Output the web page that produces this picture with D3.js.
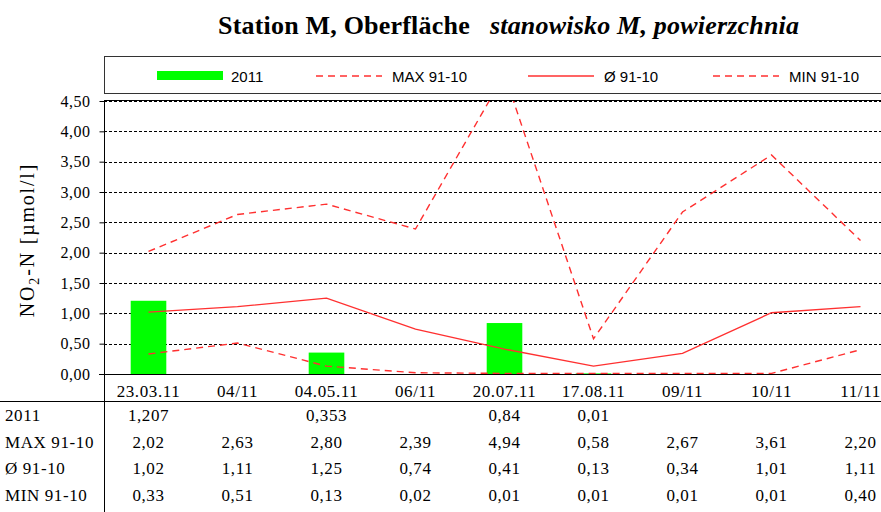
<!DOCTYPE html>
<html>
<head>
<meta charset="utf-8">
<script src="https://cdn.jsdelivr.net/npm/d3@7"></script>
<style>
  body { margin: 0; background: #fff; }
  svg { display: block; }
  .serif { font-family: "Liberation Serif", "Times New Roman", serif; }
  .sans { font-family: "Liberation Sans", Arial, sans-serif; }
</style>
</head>
<body>
<div id="chart"></div>
<script>
// data
var categories = ["23.03.11", "04/11", "04.05.11", "06/11", "20.07.11", "17.08.11", "09/11", "10/11", "11/11"];
var values2011 = [1.207, null, 0.353, null, 0.84, 0.01, null, null, null];
var maxValues = [2.02, 2.63, 2.80, 2.39, 4.94, 0.58, 2.67, 3.61, 2.20];
var meanValues = [1.02, 1.11, 1.25, 0.74, 0.41, 0.13, 0.34, 1.01, 1.11];
var minValues = [0.33, 0.51, 0.13, 0.02, 0.01, 0.01, 0.01, 0.01, 0.40];
var yTicks = [0, 0.5, 1, 1.5, 2, 2.5, 3, 3.5, 4, 4.5];
var seriesNames = ["2011", "MAX 91-10", "Ø 91-10", "MIN 91-10"];

var W = 881, H = 512;
var red = "#ff3030", green = "#00ff00";
var dash = "7,5";

var svg = d3.select("#chart").append("svg")
  .attr("width", W)
  .attr("height", H);

// Set the ranges (plot runs past the right edge, like the original)
var x = d3.scaleBand().domain(categories).range([104, 905]);
var y = d3.scaleLinear().domain([0, 4.5]).range([374, 101]);
var fmt2 = function(v) { return v.toFixed(2).replace(".", ","); };

// Title
var title = svg.append("text")
  .attr("class", "serif")
  .attr("x", 218)
  .attr("y", 34)
  .style("font-size", "26px")
  .style("letter-spacing", "0.2px")
  .style("font-weight", "bold");
title.append("tspan").text("Station M, Oberfläche");
title.append("tspan").attr("dx", 20).style("font-style", "italic").text("stanowisko M, powierzchnia");

// Legend box
svg.append("rect")
  .attr("x", 104.5).attr("y", 56.5)
  .attr("width", 800).attr("height", 37)
  .attr("fill", "none").attr("stroke", "#333");

var legendY = 76;
svg.append("rect")
  .attr("x", 157).attr("y", 71)
  .attr("width", 66).attr("height", 9)
  .attr("fill", green);
var legendLines = [
  {x: 316, dash: dash, label: seriesNames[1]},
  {x: 528, dash: null, label: seriesNames[2]},
  {x: 713, dash: dash, label: seriesNames[3]}
];
svg.append("text").attr("class", "sans")
  .attr("x", 231).attr("y", legendY + 5.5)
  .style("font-size", "15px").text(seriesNames[0]);
legendLines.forEach(function(d) {
  svg.append("line")
    .attr("x1", d.x).attr("x2", d.x + 66)
    .attr("y1", legendY).attr("y2", legendY)
    .attr("stroke", red).attr("stroke-width", 1.4)
    .attr("stroke-dasharray", d.dash);
  svg.append("text").attr("class", "sans")
    .attr("x", d.x + 76).attr("y", legendY + 5.5)
    .style("font-size", "15px").text(d.label);
});

// Gridlines
svg.append("g")
  .selectAll("line")
  .data(yTicks.filter(function(d) { return d > 0; }))
  .join("line")
    .attr("x1", 104).attr("x2", W)
    .attr("y1", function(d) { return Math.round(y(d)) + 0.5; })
    .attr("y2", function(d) { return Math.round(y(d)) + 0.5; })
    .attr("stroke", "#000")
    .attr("stroke-dasharray", "3,2");
// top border of the plot area
svg.append("line")
  .attr("x1", 104).attr("x2", W)
  .attr("y1", 100.5).attr("y2", 100.5)
  .attr("stroke", "#000");

// clip for values above 4.5
svg.append("clipPath").attr("id", "plotclip")
  .append("rect")
  .attr("x", 104).attr("y", y(4.5))
  .attr("width", 801).attr("height", y(0) - y(4.5));

var plot = svg.append("g").attr("clip-path", "url(#plotclip)");

// bars
plot.selectAll(".bar")
  .data(values2011.map(function(v, i) { return {c: categories[i], v: v}; })
    .filter(function(d) { return d.v !== null; }))
  .join("rect")
    .attr("class", "bar")
    .attr("x", function(d) { return x(d.c) + x.bandwidth() * 0.3; })
    .attr("width", x.bandwidth() * 0.4)
    .attr("y", function(d) { return y(d.v); })
    .attr("height", function(d) { return y(0) - y(d.v); })
    .attr("fill", green);

// lines
var valueline = d3.line()
  .x(function(d, i) { return x(categories[i]) + x.bandwidth() / 2; })
  .y(function(d) { return y(d); });

[[maxValues, dash], [meanValues, null], [minValues, dash]].forEach(function(s) {
  plot.append("path")
    .attr("d", valueline(s[0]))
    .attr("fill", "none")
    .attr("stroke", red)
    .attr("stroke-width", 1.4)
    .attr("stroke-dasharray", s[1]);
});

// Y axis
var yAxis = d3.axisLeft(y)
  .tickValues(yTicks)
  .tickSize(5)
  .tickPadding(9)
  .tickFormat(fmt2);
var yg = svg.append("g")
  .attr("transform", "translate(104.5,0)")
  .call(yAxis);
yg.select(".domain").remove();
yg.selectAll("line").attr("stroke", "#000");
yg.selectAll("text")
  .attr("class", "serif")
  .style("font-size", "16px")
  .style("letter-spacing", "0.5px")
  .attr("fill", "#000");

// vertical axis line, continues down through the table
svg.append("line")
  .attr("x1", 104.5).attr("x2", 104.5)
  .attr("y1", 100).attr("y2", H)
  .attr("stroke", "#000");

// X axis
var xAxis = d3.axisBottom(x).tickSize(0).tickPadding(10);
var xg = svg.append("g")
  .attr("transform", "translate(0," + (y(0) + 0.5) + ")")
  .call(xAxis);
xg.select(".domain").remove();
xg.selectAll("text")
  .attr("class", "serif")
  .style("font-size", "17px")
  .style("letter-spacing", "0.6px")
  .attr("fill", "#000");
svg.append("line")
  .attr("x1", 99).attr("x2", W)
  .attr("y1", y(0) + 0.5).attr("y2", y(0) + 0.5)
  .attr("stroke", "#000");

// Y axis title
var yt = svg.append("text")
  .attr("class", "serif")
  .attr("transform", "translate(34,240) rotate(-90)")
  .attr("text-anchor", "middle")
  .style("font-size", "20px")
  .style("letter-spacing", "1.8px");
yt.append("tspan").text("NO");
yt.append("tspan").attr("dy", 5).style("font-size", "14px").text("2");
yt.append("tspan").attr("dy", -5).text("-N [µmol/l]");

// Data table
svg.append("line")
  .attr("x1", 0).attr("x2", W)
  .attr("y1", 401.5).attr("y2", 401.5)
  .attr("stroke", "#000");

var rows = [
  {name: seriesNames[0], vals: values2011, f: function(v) { return String(v).replace(".", ","); }},
  {name: seriesNames[1], vals: maxValues, f: fmt2},
  {name: seriesNames[2], vals: meanValues, f: fmt2},
  {name: seriesNames[3], vals: minValues, f: fmt2}
];
var rowY = [421, 448, 474, 501];
rows.forEach(function(r, ri) {
  svg.append("text").attr("class", "serif")
    .attr("x", 5).attr("y", rowY[ri])
    .style("font-size", "17px")
    .style("letter-spacing", "0.6px")
    .text(r.name);
  svg.append("g").selectAll("text")
    .data(r.vals.map(function(v, i) { return {c: categories[i], v: v}; })
      .filter(function(d) { return d.v !== null; }))
    .join("text")
      .attr("class", "serif")
      .attr("x", function(d) { return x(d.c) + x.bandwidth() / 2; })
      .attr("y", rowY[ri])
      .attr("text-anchor", "middle")
      .style("font-size", "17px")
      .style("letter-spacing", "0.6px")
      .text(function(d) { return r.f(d.v); });
});
</script>
</body>
</html>
